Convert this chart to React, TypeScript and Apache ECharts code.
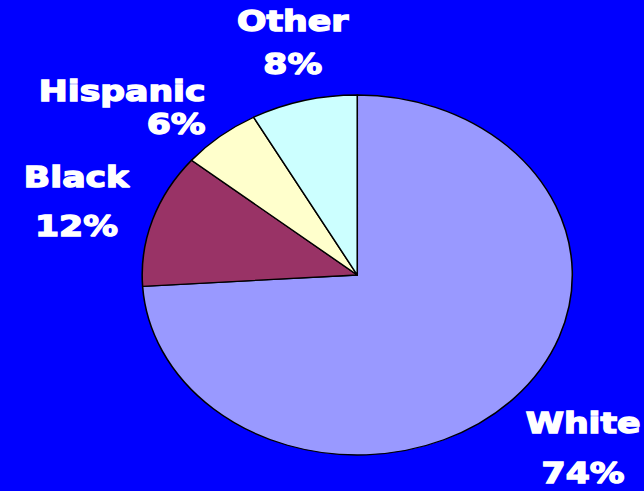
import React, { useEffect, useRef } from "react";
import * as echarts from "echarts";

const categories = ["White", "Black", "Hispanic", "Other"];
const shares = [74, 12, 6, 8];
const sliceColors = ["#9999ff", "#993366", "#ffffcc", "#ccffff"];

// label placement (unstretched coordinates)
const labelPlaces = [
  { x: 488, y: 448, align: "center", lineHeight: 50 },
  { x: 64, y: 202, align: "center", lineHeight: 49 },
  { x: 172, y: 108, align: "right", lineHeight: 33 },
  { x: 245, y: 43, align: "center", lineHeight: 43 },
];

const STRETCH = 644 / 539;

export default function App() {
  const ref = useRef<HTMLDivElement>(null);
  useEffect(() => {
    if (!ref.current) return;
    const chart = echarts.init(ref.current, undefined, { renderer: "svg" });
    chart.setOption({
      animation: false,
      backgroundColor: "#0000ff",
      series: [
        {
          type: "pie",
          center: [299, 275],
          radius: 180,
          startAngle: 90,
          clockwise: true,
          avoidLabelOverlap: false,
          data: categories.map((name, i) => ({
            name,
            value: shares[i],
            itemStyle: { color: sliceColors[i] },
            label: { lineHeight: labelPlaces[i].lineHeight, align: labelPlaces[i].align },
          })),
          itemStyle: { borderColor: "#000000", borderWidth: 1.3 },
          emphasis: { disabled: true },
          label: {
            show: true,
            position: "outside",
            formatter: "{b}\n{c}%",
            color: "#ffffff",
            fontFamily: "DejaVu Sans",
            fontWeight: "bold",
            fontSize: 29,
            textBorderColor: "#ffffff",
            textBorderWidth: 1.4,
            overflow: "none",
            width: 200,
          },
          labelLine: { show: false },
          labelLayout: (params: any) => {
            const p = labelPlaces[params.dataIndex];
            return { x: p.x, y: p.y, align: p.align, verticalAlign: "middle" };
          },
        },
      ],
    });
    return () => chart.dispose();
  }, []);
  return (
    <div
      style={{
        position: "fixed",
        left: 0,
        top: 0,
        width: 644,
        height: 491,
        overflow: "hidden",
        background: "#0000ff",
      }}
    >
      <div
        ref={ref}
        style={{
          width: 539,
          height: 491,
          transform: `scaleX(${STRETCH})`,
          transformOrigin: "0 0",
        }}
      />
    </div>
  );
}
